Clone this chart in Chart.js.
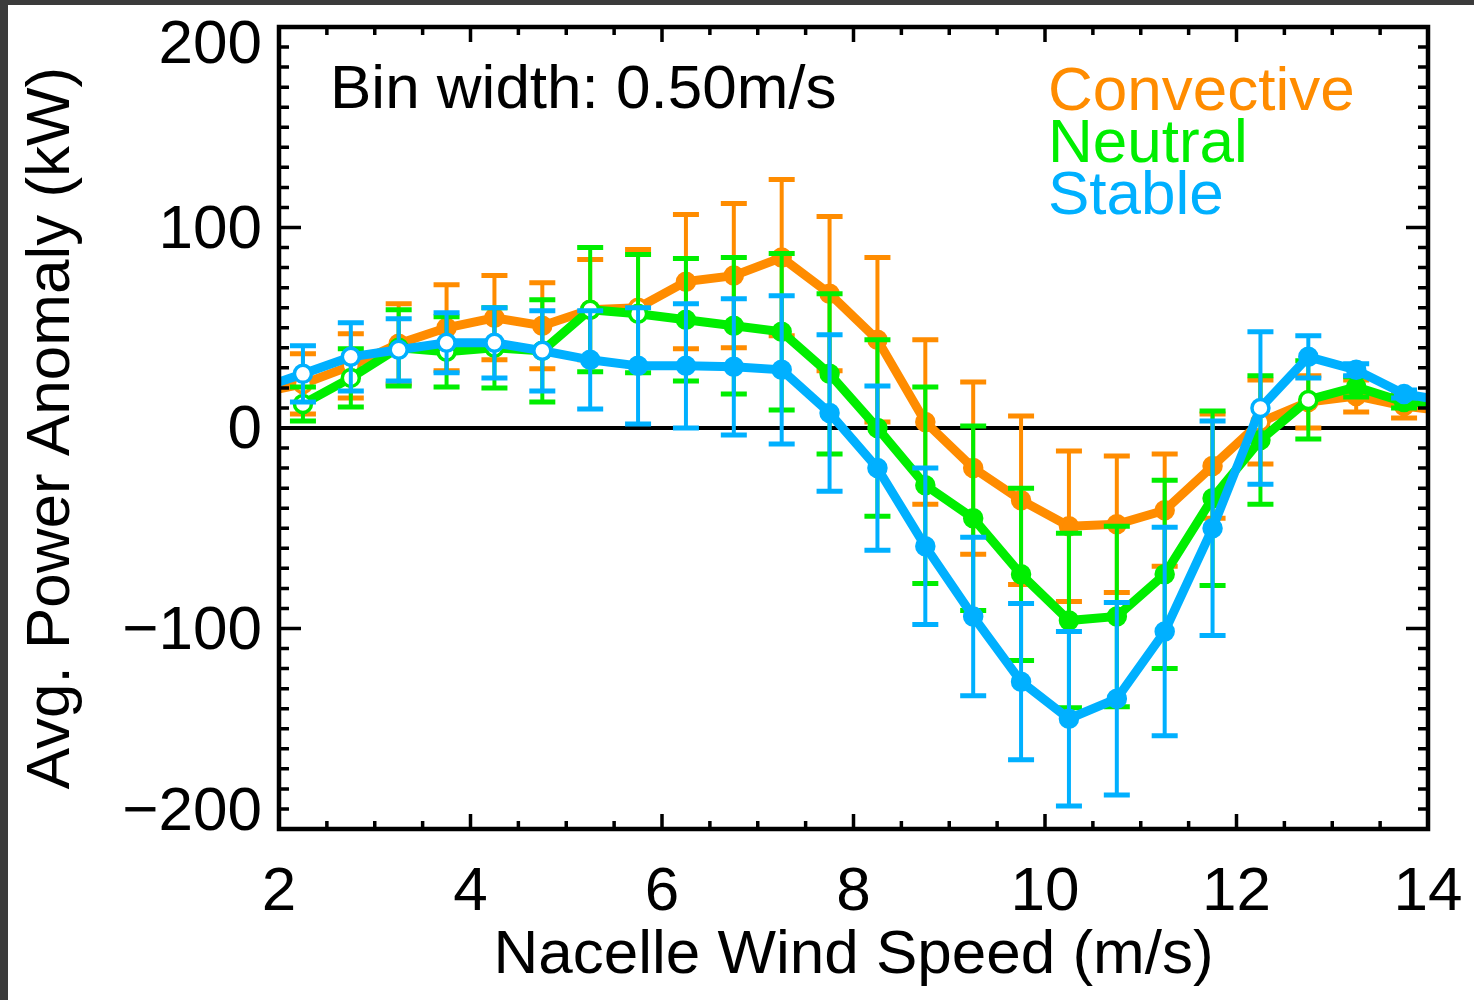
<!DOCTYPE html>
<html>
<head>
<meta charset="utf-8">
<title>Avg. Power Anomaly vs Nacelle Wind Speed</title>
<script src="https://cdn.jsdelivr.net/npm/chart.js@4.4.1/dist/chart.umd.min.js"></script>
<style>
  html, body { margin: 0; padding: 0; background: #3b3b3b; }
  #wrap { position: absolute; left: 8px; top: 5px; width: 1466px; height: 995px; background: #fff; }
</style>
</head>
<body>
<div id="wrap"><canvas id="anomalyChart" width="1466" height="995"></canvas></div>
<script>
// Bin centres (m/s); the first and last sit just outside the axis and get clipped
const windSpeed = [1.75, 2.25, 2.75, 3.25, 3.75, 4.25, 4.75, 5.25, 5.75, 6.25, 6.75, 7.25, 7.75,
                   8.25, 8.75, 9.25, 9.75, 10.25, 10.75, 11.25, 11.75, 12.25, 12.75, 13.25, 13.75, 14.25];

const convective    = [17, 22, 31, 42, 50, 55, 51, 59, 60, 73, 76, 85, 67, 44, 3, -20, -36, -49, -48, -41, -19, 3, 13, 16, 11, 8];
const convectiveErr = [null, 15, 16, 20, 21.5, 21, 21.5, 25, 29, 33.5, 36, 39, 38.5, 41, 41, 43, 42, 37.5, 34, 28, 26, 21, 13, 8, 6, null];
const neutral       = [null, 12, 25, 40, 38, 40, 38.5, 59, 57, 54, 51, 48, 27, 0, -28.5, -45, -73, -96, -94, -73, -35, -6, 14, 20.5, 13, 12];
const neutralErr    = [null, 8.5, 14.5, 19, 17.5, 20, 25.5, 31, 29.5, 30.5, 34, 39, 40, 44, 49, 46, 43, 43.5, 45, 47, 43.5, 32, 19.5, 5, 3, null];
const stable        = [19, 27, 35.5, 39, 42.5, 42.5, 38.5, 34, 31, 31, 30.5, 29, 7.5, -20, -59, -94, -126.5, -145, -135, -101.5, -50, 10, 35.5, 29, 17, 13];
const stableErr     = [null, 14, 17, 15.5, 15, 17.5, 20, 24.5, 29, 31, 34, 37, 39, 41, 39, 39.5, 39, 43.5, 48, 52, 53.5, 38, 10.5, 3, 2, null];

// bins plotted with open (white) symbols
const convectiveOpen = [2.25, 2.75, 5.25, 5.75, 12.25];
const neutralOpen    = [2.25, 2.75, 3.25, 3.75, 4.25, 5.25, 5.75, 12.75];
const stableOpen     = [2.25, 2.75, 3.25, 3.75, 4.25, 4.75, 12.25];

const xTicks = [2, 4, 6, 8, 10, 12, 14];
const yTicks = [-200, -100, 0, 100, 200];

const ORANGE = '#ff8c00';
const GREEN = '#00ee00';
const BLUE = '#00b0ff';
const FONT = '"Liberation Sans", Arial, Helvetica, sans-serif';

Chart.defaults.font.family = FONT;
Chart.defaults.color = '#000';

const errorSets = [convectiveErr, neutralErr, stableErr];

function series(label, values, color, openBins, order) {
    return {
        label: label,
        data: windSpeed.map((x, i) => ({ x: x, y: values[i] })),
        borderColor: color,
        borderWidth: 9,
        pointRadius: 8.5,
        pointBorderWidth: 3.5,
        pointBorderColor: color,
        pointBackgroundColor: windSpeed.map(x => openBins.includes(x) ? '#ffffff' : color),
        tension: 0,
        clip: 0,
        order: order
    };
}

// zero line, error bars, frame with inward ticks, y labels and text
const plotDecor = {
    id: 'plotDecor',
    beforeDatasetsDraw(chart) {
        const { ctx, chartArea: a, scales: { y } } = chart;
        const y0 = y.getPixelForValue(0);
        ctx.save();
        ctx.strokeStyle = '#000';
        ctx.lineWidth = 4;
        ctx.beginPath();
        ctx.moveTo(a.left, y0);
        ctx.lineTo(a.right, y0);
        ctx.stroke();
        ctx.restore();
    },
    beforeDatasetDraw(chart, args) {
        const { ctx, chartArea: a, scales: { x, y } } = chart;
        const ds = chart.data.datasets[args.index];
        const errs = errorSets[args.index];
        const vals = ds.data;
        ctx.save();
        ctx.beginPath();
        ctx.rect(a.left, a.top, a.right - a.left, a.bottom - a.top);
        ctx.clip();
        ctx.strokeStyle = ds.borderColor;
        for (let i = 0; i < vals.length; i++) {
            if (errs[i] == null || vals[i].y == null) continue;
            const px = x.getPixelForValue(vals[i].x);
            const hi = y.getPixelForValue(vals[i].y + errs[i]);
            const lo = y.getPixelForValue(vals[i].y - errs[i]);
            ctx.lineWidth = 4;
            ctx.beginPath();
            ctx.moveTo(px, hi);
            ctx.lineTo(px, lo);
            ctx.stroke();
            ctx.lineWidth = 5;
            ctx.beginPath();
            ctx.moveTo(px - 13, hi);
            ctx.lineTo(px + 13, hi);
            ctx.moveTo(px - 13, lo);
            ctx.lineTo(px + 13, lo);
            ctx.stroke();
        }
        ctx.restore();
    },
    afterDatasetsDraw(chart) {
        const { ctx, chartArea: a, scales: { x, y } } = chart;
        ctx.save();
        ctx.strokeStyle = '#000';
        ctx.lineWidth = 3.5;

        // x ticks: major every 2, minor every 0.5
        ctx.beginPath();
        for (let v = x.min; v <= x.max + 1e-9; v += 0.5) {
            const px = x.getPixelForValue(v);
            const len = xTicks.includes(v) ? 15 : 8;
            ctx.moveTo(px, a.bottom);
            ctx.lineTo(px, a.bottom - len);
            ctx.moveTo(px, a.top);
            ctx.lineTo(px, a.top + len);
        }
        // y ticks: major every 100, minor every 10
        for (let v = y.min; v <= y.max + 1e-9; v += 10) {
            const py = y.getPixelForValue(v);
            const len = yTicks.includes(v) ? 22 : 10;
            ctx.moveTo(a.left, py);
            ctx.lineTo(a.left + len, py);
            ctx.moveTo(a.right, py);
            ctx.lineTo(a.right - len, py);
        }
        ctx.stroke();

        ctx.lineWidth = 4.5;
        ctx.strokeRect(a.left, a.top, a.right - a.left, a.bottom - a.top);

        // y tick labels, kept inside the frame height like the original plot
        ctx.fillStyle = '#000';
        ctx.font = '62px ' + FONT;
        ctx.textAlign = 'right';
        ctx.textBaseline = 'middle';
        yTicks.forEach(v => {
            let py = y.getPixelForValue(v);
            py = Math.min(Math.max(py, a.top + 16), a.bottom - 19);
            const txt = v < 0 ? '\u2212' + Math.abs(v) : String(v);
            ctx.fillText(txt, a.left - 17, py + 3);
        });

        ctx.textAlign = 'left';
        ctx.textBaseline = 'alphabetic';
        ctx.fillText('Bin width: 0.50m/s', a.left + 51, a.top + 81);

        // legend as coloured text
        [0, 1, 2].forEach(i => {
            const ds = chart.data.datasets[i];
            ctx.fillStyle = ds.borderColor;
            ctx.fillText(ds.label, a.left + 769, a.top + 83 + i * 52);
        });
        ctx.restore();
    }
};

const ctx = document.getElementById('anomalyChart').getContext('2d');
new Chart(ctx, {
    type: 'line',
    data: {
        datasets: [
            series('Convective', convective, ORANGE, convectiveOpen, 3),
            series('Neutral', neutral, GREEN, neutralOpen, 2),
            series('Stable', stable, BLUE, stableOpen, 1)
        ]
    },
    options: {
        responsive: false,
        animation: false,
        layout: {
            padding: { left: 0, top: 22, right: 46, bottom: 0 }
        },
        plugins: {
            legend: { display: false },
            tooltip: { enabled: false }
        },
        scales: {
            x: {
                type: 'linear',
                min: 2,
                max: 14,
                afterBuildTicks: s => { s.ticks = xTicks.map(v => ({ value: v })); },
                afterFit: s => { s.height = 171; s.paddingLeft = 0; s.paddingRight = 0; },
                border: { display: false },
                grid: { display: false, drawTicks: false },
                ticks: {
                    font: { size: 62 },
                    color: '#000',
                    padding: 27,
                    maxRotation: 0
                },
                title: {
                    display: true,
                    text: 'Nacelle Wind Speed (m/s)',
                    font: { size: 62 },
                    color: '#000',
                    padding: { top: 0, bottom: 7 }
                }
            },
            y: {
                type: 'linear',
                min: -200,
                max: 200,
                afterBuildTicks: s => { s.ticks = yTicks.map(v => ({ value: v })); },
                afterFit: s => { s.width = 271; s.paddingTop = 0; s.paddingBottom = 0; },
                border: { display: false },
                grid: { display: false, drawTicks: false },
                ticks: { display: false },
                title: {
                    display: true,
                    text: 'Avg. Power Anomaly (kW)',
                    font: { size: 62 },
                    color: '#000',
                    padding: { top: 7, bottom: 0 }
                }
            }
        }
    },
    plugins: [plotDecor]
});
</script>
</body>
</html>
